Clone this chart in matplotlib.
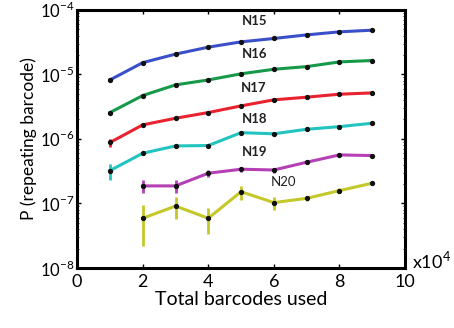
import numpy as np
import matplotlib
matplotlib.use('Agg')
import matplotlib.pyplot as plt
from matplotlib.ticker import LogLocator, NullFormatter

plt.rcParams['font.family'] = ['Lato', 'DejaVu Sans']
plt.rcParams['mathtext.fontset'] = 'custom'
plt.rcParams['mathtext.rm'] = 'Lato'

# total barcodes used, in units of 1e4
x_all = [1, 2, 3, 4, 5, 6, 7, 8, 9]
x_short = [2, 3, 4, 5, 6, 7, 8, 9]

n15 = [8.2e-6, 1.52e-5, 2.06e-5, 2.64e-5, 3.19e-5, 3.6e-5, 4.09e-5, 4.56e-5, 4.84e-5]
n16 = [2.56e-6, 4.7e-6, 6.87e-6, 8.2e-6, 1.02e-5, 1.2e-5, 1.32e-5, 1.56e-5, 1.64e-5]
n17 = [8.8e-7, 1.65e-6, 2.09e-6, 2.56e-6, 3.25e-6, 4.03e-6, 4.43e-6, 4.93e-6, 5.16e-6]
n18 = [3.23e-7, 6.0e-7, 7.78e-7, 7.9e-7, 1.25e-6, 1.2e-6, 1.41e-6, 1.55e-6, 1.75e-6]
n19 = [1.87e-7, 1.87e-7, 2.94e-7, 3.39e-7, 3.3e-7, 4.35e-7, 5.65e-7, 5.52e-7]
n20 = [5.9e-8, 9.1e-8, 5.9e-8, 1.52e-7, 1.03e-7, 1.2e-7, 1.58e-7, 2.06e-7]

n15_err = [4e-7, 6e-7, 6e-7, 6e-7, 7e-7, 7e-7, 8e-7, 9e-7, 9e-7]
n16_err = [1.5e-7, 2e-7, 2e-7, 2e-7, 2.5e-7, 2.5e-7, 2.5e-7, 3e-7, 3e-7]
n17_err = [1.3e-7, 8e-8, 7e-8, 7e-8, 8e-8, 8e-8, 9e-8, 9e-8, 1e-7]
n18_err = [9e-8, 4e-8, 3e-8, 3e-8, 3e-8, 3e-8, 3e-8, 3e-8, 3e-8]
n19_err = [4.2e-8, 4.2e-8, 4e-8, 3e-8, 3e-8, 2e-8, 2e-8, 2e-8]
n20_err = [3.7e-8, 3.3e-8, 2.5e-8, 3.7e-8, 2.3e-8, 1.2e-8, 1.5e-8, 1.5e-8]

names = ['N15', 'N16', 'N17', 'N18', 'N19', 'N20']
colors = ['#3b4fc8', '#169a4a', '#e8222e', '#22c4c0', '#b540b4', '#c4c828']
label_pos = [(5.4, 5.5e-5), (5.4, 1.68e-5), (5.4, 4.9e-6), (5.4, 1.66e-6), (5.4, 5.0e-7), (6.3, 1.72e-7)]

series = [(x_all, n15, n15_err), (x_all, n16, n16_err), (x_all, n17, n17_err),
          (x_all, n18, n18_err), (x_short, n19, n19_err), (x_short, n20, n20_err)]

fig = plt.figure(figsize=(4.54, 3.28), dpi=100)
ax = fig.add_axes([0.170, 0.183, 0.722, 0.787])

for (xs, ys, es), c, name, (lx, ly) in zip(series, colors, names, label_pos):
    ax.errorbar(xs, ys, yerr=es, color=c, lw=2.2, elinewidth=2, capsize=0, zorder=2)
    ax.plot(xs, ys, ls='none', marker='o', ms=2.8, mfc='#111111', mec='#111111', zorder=3)
    weight = 'normal' if name == 'N20' else 'bold'
    ax.text(lx, ly, name, ha='center', va='bottom', fontsize=9.5, fontweight=weight, color='#222222')

ax.set_yscale('log')
ax.set_ylim(1e-8, 1e-4)
ax.set_xlim(0, 10)
ax.set_xticks([0, 2, 4, 6, 8, 10])
ax.set_yticks([1e-8, 1e-7, 1e-6, 1e-5, 1e-4])
ax.set_yticklabels([r'$10^{-8}$', r'$10^{-7}$', r'$10^{-6}$', r'$10^{-5}$', r'$10^{-4}$'])
ax.yaxis.set_minor_locator(LogLocator(base=10, subs=np.arange(2, 10)))
ax.yaxis.set_minor_formatter(NullFormatter())

ax.tick_params(axis='both', which='both', direction='in', top=True, right=True)
ax.tick_params(axis='both', which='major', length=3, width=1, labelsize=13, pad=4)
ax.tick_params(axis='y', which='minor', length=1.5, width=0.6)
ax.tick_params(axis='y', labelsize=12, pad=2)
for s in ax.spines.values():
    s.set_linewidth(2.2)

ax.set_xlabel('Total barcodes used', fontsize=14, labelpad=1)
ax.set_ylabel('P (repeating barcode)', fontsize=12.5, labelpad=2)
ax.text(1.02, 0.03, r'x$10^4$', transform=ax.transAxes, fontsize=13, ha='left', va='center')

fig.savefig('out.png', dpi=100)
